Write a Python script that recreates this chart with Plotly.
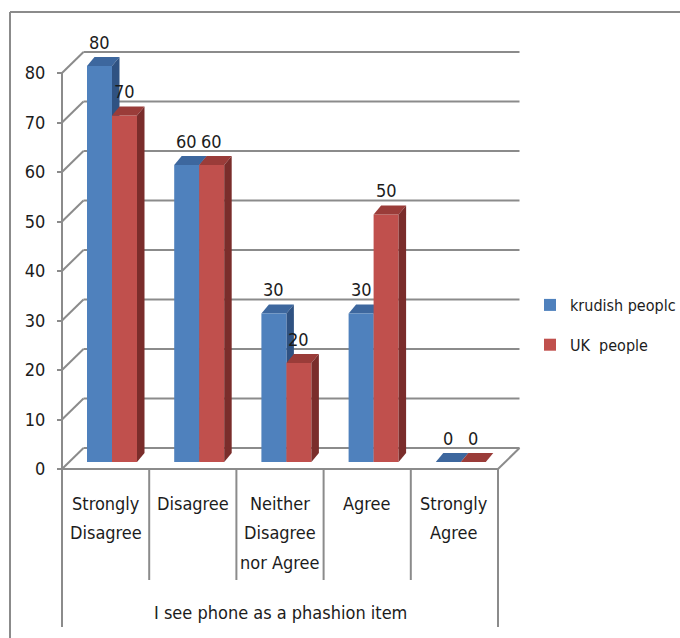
import plotly.graph_objects as go

# ---- data -------------------------------------------------------------
categories = ["Strongly\nDisagree", "Disagree", "Neither\nDisagree\nnor Agree",
              "Agree", "Strongly\nAgree"]
kurdish_people = [80, 60, 30, 30, 0]
uk_people = [70, 60, 20, 50, 0]
series_names = ["krudish peoplc", "UK \u00a0people"]
y_ticks = [0, 10, 20, 30, 40, 50, 60, 70, 80]
axis_title = "I see phone as a phashion item"

# ---- layout geometry (pixels) -----------------------------------------
W, H = 680, 638
AXIS_PX = 62          # front value axis
CAT_PX = 87.2         # width of one category
ZERO_PX = 469         # pixel row of value 0 on the front plane
UNIT_PX = 4.95        # pixels per value unit

def cx(px):           # pixel offset -> category units
    return px / CAT_PX

def vy(px):           # pixel offset -> value units
    return px / UNIT_PX

x_lo = (0 - (AXIS_PX + CAT_PX / 2)) / CAT_PX
x_hi = (W - (AXIS_PX + CAT_PX / 2)) / CAT_PX
y_lo = (ZERO_PX - H) / UNIT_PX
y_hi = ZERO_PX / UNIT_PX

WALL_DX, WALL_DY = cx(21.5), vy(21)   # depth of the back wall
BAR_DX, BAR_DY = cx(6.4), vy(7)       # bars sit inside the floor
DEP_DX, DEP_DY = cx(7.5), vy(9)       # depth of each bar
BAR_W = cx(25)

GRID = "#8b8b8b"
TEXT = "#1c1c1c"
FONT = "DejaVu Sans Condensed, Liberation Sans Narrow, sans-serif"
BLUE, BLUE_TOP, BLUE_SIDE = "#4f81bd", "#3d679e", "#2f5282"
RED, RED_TOP, RED_SIDE = "#c0504d", "#9a3c39", "#7a2d2b"

n = len(categories)
left_edge, right_edge = -0.5, n - 0.5

shapes = []

def line(x0, y0, x1, y1, layer="below", xref="x", yref="y"):
    shapes.append(dict(type="line", x0=x0, y0=y0, x1=x1, y1=y1, xref=xref, yref=yref,
                       line=dict(color=GRID, width=2), layer=layer))

# back-wall gridlines and the slanted side-wall lines
for t in y_ticks:
    line(left_edge + WALL_DX, t + WALL_DY, right_edge + WALL_DX, t + WALL_DY)
    line(left_edge, t, left_edge + WALL_DX, t + WALL_DY)
# floor front edge and right edge
line(left_edge, 0, right_edge, 0)
line(right_edge, 0, right_edge + WALL_DX, WALL_DY)
# front value axis
line(left_edge, 0, left_edge, y_ticks[-1])
# category frame below the floor
for k in range(n + 1):
    depth = vy(158) if k in (0, n) else vy(111)
    line(left_edge + k, 0, left_edge + k, -depth)

# outer chart border
shapes.append(dict(type="line", xref="paper", yref="paper", x0=10 / W, x1=1.0,
                   y0=1 - 12 / H, y1=1 - 12 / H, line=dict(color=GRID, width=2)))
shapes.append(dict(type="line", xref="paper", yref="paper", x0=10 / W, x1=10 / W,
                   y0=1 - 12 / H, y1=0.0, line=dict(color=GRID, width=2)))

def path(pts):
    return "M " + " L ".join(f"{x:.4f},{y:.4f}" for x, y in pts) + " Z"

def box_faces(x0, x1, value, top_col, side_col, layer):
    base = BAR_DY
    top = base + value
    shapes.append(dict(type="path", xref="x", yref="y", layer=layer, line=dict(width=0),
                       fillcolor=top_col,
                       path=path([(x0, top), (x1, top), (x1 + DEP_DX, top + DEP_DY),
                                  (x0 + DEP_DX, top + DEP_DY)])))
    if value > 0:
        shapes.append(dict(type="path", xref="x", yref="y", layer=layer, line=dict(width=0),
                           fillcolor=side_col,
                           path=path([(x1, base), (x1, top), (x1 + DEP_DX, top + DEP_DY),
                                      (x1 + DEP_DX, base + DEP_DY)])))

annotations = []
for i in range(n):
    b0, b1 = i + BAR_DX - BAR_W, i + BAR_DX
    r0, r1 = i + BAR_DX, i + BAR_DX + BAR_W
    box_faces(b0, b1, kurdish_people[i], BLUE_TOP, BLUE_SIDE, "between")
    box_faces(r0, r1, uk_people[i], RED_TOP, RED_SIDE, "above")
    for xc, v in (((b0 + b1) / 2, kurdish_people[i]), ((r0 + r1) / 2, uk_people[i])):
        annotations.append(dict(x=xc, y=v + BAR_DY, yshift=24, text=str(v), showarrow=False,
                                xref="x", yref="y", yanchor="middle",
                                font=dict(size=18, color=TEXT, family=FONT)))
    for j, part in enumerate(categories[i].split("\n")):
        annotations.append(dict(x=i, y=0, yshift=-(34 + 29.5 * j), text=part, showarrow=False,
                                xref="x", yref="y", yanchor="middle",
                                font=dict(size=18, color=TEXT, family=FONT)))

annotations.append(dict(x=(n - 1) / 2, y=0, yshift=-143, text=axis_title, showarrow=False,
                        xref="x", yref="y", yanchor="middle",
                        font=dict(size=18, color=TEXT, family=FONT)))

fig = go.Figure()
fig.add_trace(go.Bar(x=list(range(n)), y=kurdish_people, base=BAR_DY, name=series_names[0],
                     offset=BAR_DX - BAR_W, width=BAR_W, marker=dict(color=BLUE, line=dict(width=0)),
                     legendgroup="a"))
fig.add_trace(go.Bar(x=list(range(n)), y=uk_people, base=BAR_DY, name=series_names[1],
                     offset=BAR_DX, width=BAR_W, marker=dict(color=RED, line=dict(width=0)),
                     legendgroup="b"))

fig.update_layout(
    width=W, height=H, margin=dict(l=0, r=0, t=0, b=0, autoexpand=False),
    paper_bgcolor="white", plot_bgcolor="white",
    barmode="overlay",
    font=dict(family=FONT, size=18, color=TEXT),
    xaxis=dict(range=[x_lo, x_hi], visible=False, fixedrange=True),
    yaxis=dict(range=[y_lo, y_hi], anchor="free", position=AXIS_PX / W,
               tickvals=y_ticks, ticktext=[str(t) for t in y_ticks],
               ticks="outside", ticklen=5, tickwidth=2, tickcolor=GRID,
               ticklabelstandoff=8, showgrid=False, zeroline=False, showline=False,
               tickfont=dict(size=18, color=TEXT, family=FONT)),
    legend=dict(x=530 / W, y=1 - 288 / H, xanchor="left", yanchor="top",
                tracegroupgap=16, bgcolor="rgba(0,0,0,0)",
                font=dict(size=16, color=TEXT, family=FONT)),
    shapes=shapes, annotations=annotations,
)

fig.write_html("out.html")
